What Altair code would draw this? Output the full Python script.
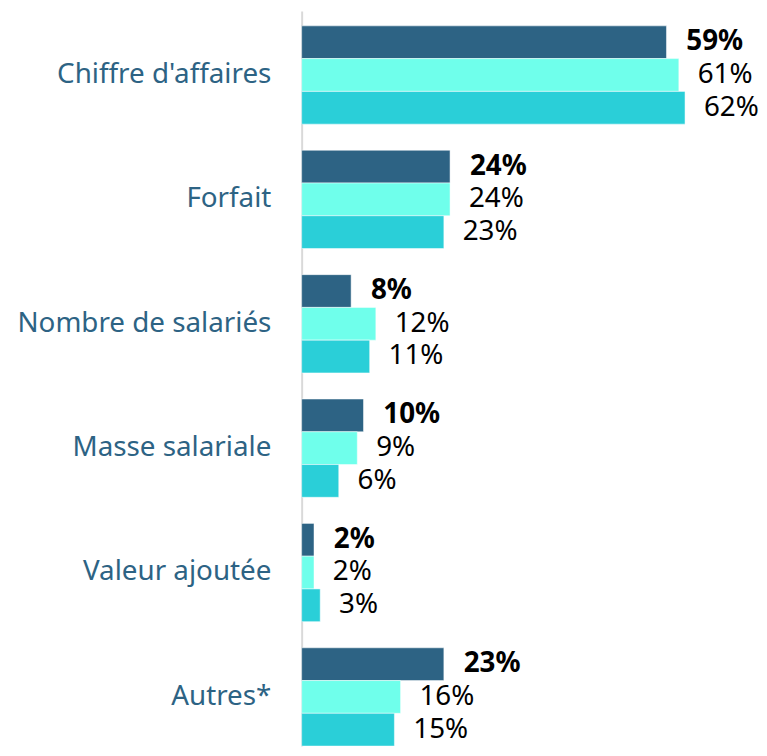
import altair as alt
import pandas as pd

categories = ["Chiffre d'affaires", "Forfait", "Nombre de salariés",
              "Masse salariale", "Valeur ajoutée", "Autres*"]
series = ["Série 1", "Série 2", "Série 3"]
values_s1 = [59, 24, 8, 10, 2, 23]
values_s2 = [61, 24, 12, 9, 2, 16]
values_s3 = [62, 23, 11, 6, 3, 15]
colors = ["#2D6384", "#6FFFEB", "#2ACFD8"]

rows = []
for s, vals in zip(series, [values_s1, values_s2, values_s3]):
    for c, v in zip(categories, vals):
        rows.append({"categorie": c, "serie": s, "valeur": v, "label": f"{v}%"})
df = pd.DataFrame(rows)

FONT = "Noto Sans"

y_enc = alt.Y("categorie:N", sort=categories, title=None,
              scale=alt.Scale(paddingInner=0.21, paddingOuter=0.06, align=1),
              axis=alt.Axis(ticks=False, labelPadding=31, labelFont=FONT,
                            labelFontSize=28, labelColor="#2D6384",
                            labelLimit=400, minExtent=294, maxExtent=294,
                            domainColor="#D9D9D9", domainWidth=2))
yoff = alt.YOffset("serie:N", sort=series,
                   scale=alt.Scale(paddingInner=0, paddingOuter=0))
x_enc = alt.X("valeur:Q", title=None, scale=alt.Scale(domain=[0, 73]),
              axis=None)

base = alt.Chart(df)

bars = base.mark_bar(stroke="white", strokeWidth=0.5).encode(
    x=x_enc, y=y_enc, yOffset=yoff,
    color=alt.Color("serie:N", sort=series,
                    scale=alt.Scale(domain=series, range=colors), legend=None),
)

text_bold = base.transform_filter(alt.datum.serie == series[0]).mark_text(
    align="left", baseline="middle", dx=20, font=FONT, fontSize=28,
    fontWeight="bold", color="black"
).encode(x=x_enc, y=y_enc, yOffset=yoff, text="label:N")

text_norm = base.transform_filter(alt.datum.serie != series[0]).mark_text(
    align="left", baseline="middle", dx=19, font=FONT, fontSize=28,
    color="black"
).encode(x=x_enc, y=y_enc, yOffset=yoff, text="label:N")

chart = alt.layer(bars, text_bold, text_norm).properties(
    width=455, height=741, padding={"left": 2, "top": 0, "right": 0, "bottom": 0},
    background="white"
).configure_view(stroke=None)

chart.save("out.html", embed_options={"renderer": "svg", "actions": False})
